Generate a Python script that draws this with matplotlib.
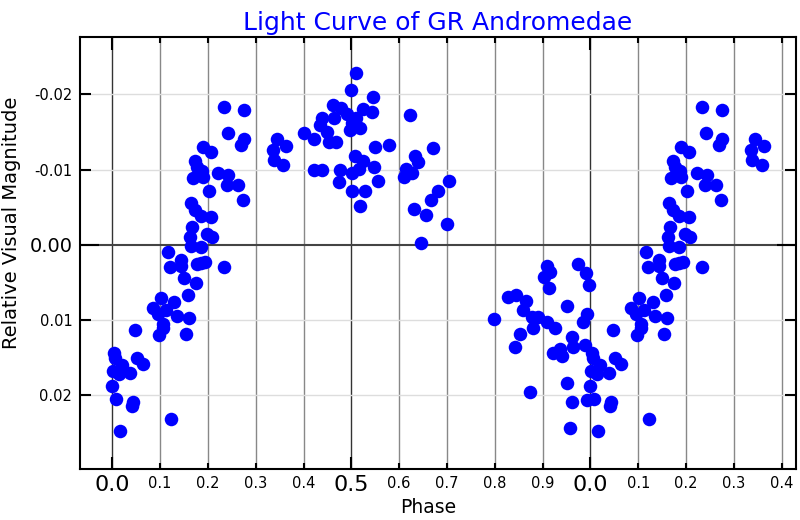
import numpy as np
import matplotlib
matplotlib.use("Agg")
import matplotlib.pyplot as plt
from matplotlib.ticker import FixedLocator, FixedFormatter

# phase (0..1) and relative visual magnitude
phase = [
    0.234, 0.275, 0.241, 0.276, 0.269, 0.345, 0.363, 0.336, 0.339, 0.358,
    0.189, 0.206, 0.173, 0.177, 0.188, 0.169, 0.190, 0.222, 0.243, 0.239,
    0.262, 0.202, 0.274, 0.165, 0.173, 0.186, 0.206, 0.167, 0.197, 0.208,
    0.163, 0.164, 0.186, 0.117, 0.144, 0.121, 0.144, 0.177, 0.194, 0.186,
    0.234, 0.149, 0.175, 0.158, 0.101, 0.130, 0.085, 0.112, 0.096, 0.135,
    0.160, 0.105, 0.105, 0.047, 0.098, 0.154, 0.004, 0.006, 0.051, 0.064,
    0.020, 0.002, 0.014, 0.038, 0.000, 0.008, 0.043, 0.042, 0.123, 0.016,
    # hump
    0.510, 0.499, 0.546, 0.461, 0.478, 0.525, 0.543, 0.490, 0.439, 0.464,
    0.510, 0.435, 0.501, 0.518, 0.497, 0.449, 0.400, 0.421, 0.453, 0.468,
    0.623, 0.550, 0.579, 0.670, 0.633, 0.639, 0.508, 0.524, 0.422, 0.439,
    0.476, 0.501, 0.517, 0.547, 0.614, 0.626, 0.610, 0.474, 0.556, 0.704,
    0.681, 0.667, 0.502, 0.529, 0.518, 0.631, 0.656, 0.701, 0.645,
    # dip
    0.909, 0.916, 0.903, 0.913, 0.975, 0.991, 0.996, 0.827, 0.845, 0.865,
    0.860, 0.951, 0.799, 0.877, 0.891, 0.909, 0.879, 0.926, 0.992, 0.985,
    0.853, 0.842, 0.961, 0.963, 0.921, 0.937, 0.940, 0.989, 0.951, 0.961,
    0.992, 0.874, 0.958,
]
vmag = [
    -0.0183, -0.0179, -0.0148, -0.0140, -0.0132, -0.0141, -0.0131, -0.0126, -0.0113, -0.0106,
    -0.0130, -0.0123, -0.0111, -0.0103, -0.0098, -0.0089, -0.0090, -0.0096, -0.0093, -0.0080,
    -0.0079, -0.0072, -0.0060, -0.0056, -0.0046, -0.0038, -0.0037, -0.0024, -0.0015, -0.0011,
    -0.0011, 0.0001, 0.0003, 0.0010, 0.0020, 0.0029, 0.0028, 0.0026, 0.0023, 0.0024,
    0.0030, 0.0044, 0.0050, 0.0066, 0.0071, 0.0076, 0.0084, 0.0086, 0.0092, 0.0095,
    0.0097, 0.0105, 0.0111, 0.0113, 0.0120, 0.0118, 0.0143, 0.0150, 0.0150, 0.0158,
    0.0159, 0.0168, 0.0171, 0.0170, 0.0188, 0.0204, 0.0208, 0.0214, 0.0231, 0.0247,
    -0.0228, -0.0205, -0.0196, -0.0186, -0.0182, -0.0181, -0.0176, -0.0174, -0.0168, -0.0168,
    -0.0168, -0.0159, -0.0162, -0.0155, -0.0152, -0.0150, -0.0148, -0.0140, -0.0137, -0.0137,
    -0.0172, -0.0130, -0.0133, -0.0128, -0.0118, -0.0110, -0.0118, -0.0111, -0.0100, -0.0099,
    -0.0099, -0.0096, -0.0101, -0.0103, -0.0101, -0.0096, -0.0090, -0.0083, -0.0085, -0.0085,
    -0.0071, -0.0059, -0.0071, -0.0071, -0.0052, -0.0048, -0.0040, -0.0028, -0.0003,
    0.0028, 0.0036, 0.0043, 0.0057, 0.0026, 0.0037, 0.0053, 0.0069, 0.0066, 0.0075,
    0.0086, 0.0081, 0.0098, 0.0096, 0.0096, 0.0102, 0.0110, 0.0111, 0.0092, 0.0103,
    0.0119, 0.0135, 0.0122, 0.0136, 0.0143, 0.0138, 0.0147, 0.0133, 0.0183, 0.0208,
    0.0206, 0.0195, 0.0243,
]

xmajor = [0.0, 0.5, 1.0]
xmajor_labels = ["0.0", "0.5", "0.0"]
xminor = [0.1, 0.2, 0.3, 0.4, 0.6, 0.7, 0.8, 0.9, 1.1, 1.2, 1.3, 1.4]
xminor_labels = ["0.1", "0.2", "0.3", "0.4", "0.6", "0.7", "0.8", "0.9",
                 "0.1", "0.2", "0.3", "0.4"]
ymajor = [0.0]
ymajor_labels = ["0.00"]
yminor = [-0.02, -0.01, 0.01, 0.02]
yminor_labels = ["-0.02", "-0.01", "0.01", "0.02"]

ph = np.array(phase)
mg = np.array(vmag)
# early phases are shown a second time after phase 1
wrap = ph < 0.38
x = np.concatenate([ph, ph[wrap] + 1.0])
y = np.concatenate([mg, mg[wrap]])

fig = plt.figure(figsize=(8, 5.2), dpi=100)
ax = fig.add_axes([0.1, 0.0975, 0.895, 0.8313])

for v in xminor:
    ax.axvline(v, color="#888888", lw=1, zorder=1)
for v in xmajor:
    ax.axvline(v, color="#333333", lw=1, zorder=1)
for v in yminor:
    ax.axhline(v, color="#dddddd", lw=1, zorder=1)
ax.axhline(0, color="#444444", lw=1.5, zorder=1)

ax.scatter(x, y, s=95, color="#0000ff", linewidths=0, zorder=3)

ax.set_xlim(-0.0676, 1.430)
ax.set_ylim(0.0298, -0.0276)

ax.xaxis.set_major_locator(FixedLocator(xmajor))
ax.xaxis.set_major_formatter(FixedFormatter(xmajor_labels))
ax.xaxis.set_minor_locator(FixedLocator(xminor))
ax.xaxis.set_minor_formatter(FixedFormatter(xminor_labels))
ax.yaxis.set_major_locator(FixedLocator(ymajor))
ax.yaxis.set_major_formatter(FixedFormatter(ymajor_labels))
ax.yaxis.set_minor_locator(FixedLocator(yminor))
ax.yaxis.set_minor_formatter(FixedFormatter(yminor_labels))

ax.tick_params(which="both", direction="in", top=True, right=True, width=1.5, color="black")
ax.tick_params(axis="x", which="major", length=9, labelsize=16, pad=4)
ax.tick_params(axis="x", which="minor", length=4, labelsize=10.5, pad=5)
ax.tick_params(axis="y", which="major", length=14, labelsize=14, pad=5.5)
ax.tick_params(axis="y", which="minor", length=8, labelsize=10.5, pad=5.5)

for s in ax.spines.values():
    s.set_linewidth(1.5)

ax.set_title("Light Curve of GR Andromedae", color="blue", fontsize=18, pad=5)
ax.set_xlabel("Phase", fontsize=13.5)
ax.set_ylabel("Relative Visual Magnitude", fontsize=14)
ax.xaxis.set_label_coords(0.486, -0.066)
ax.yaxis.set_label_coords(-0.082, 0.57)

fig.savefig("out.png", dpi=100)
